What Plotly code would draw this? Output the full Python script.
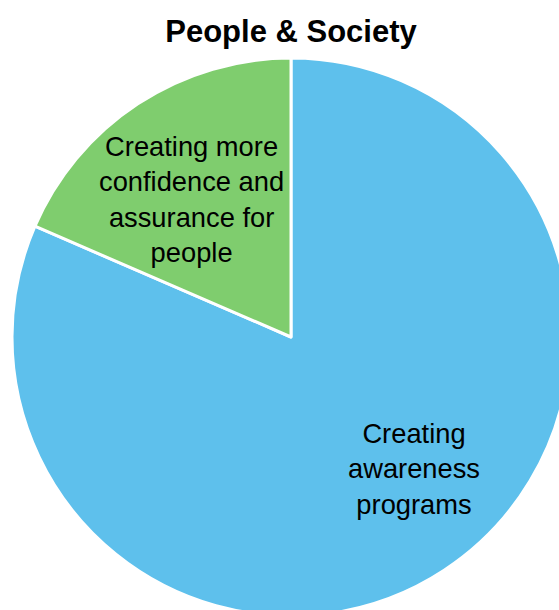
import plotly.graph_objects as go

# Data
labels = ["Creating awareness programs", "Creating more confidence and assurance for people"]
display_text = ["Creating<br>awareness<br>programs", "Creating more<br>confidence and<br>assurance for<br>people"]
values = [81.5, 18.5]
colors = ["#5EC0EC", "#7FCD6E"]
title_text = "People & Society"

W, H = 580, 625
L, T = 12, 58
D = 558  # pie diameter in px

fig = go.Figure(
    go.Pie(
        labels=labels,
        values=values,
        sort=False,
        direction="clockwise",
        rotation=0,
        marker=dict(colors=colors, line=dict(color="white", width=3)),
        textinfo="none",
        hoverinfo="label+percent",
        showlegend=False,
    )
)

# label annotations (positions as fractions of the pie's plotting area)
label_pos = [(0.720, 0.263), (0.321, 0.746)]
for txt, (x, y) in zip(display_text, label_pos):
    fig.add_annotation(
        text=txt, x=x, y=y, xref="paper", yref="paper",
        showarrow=False, xanchor="center", yanchor="middle",
        font=dict(family="Arial, Liberation Sans, sans-serif", size=27.3, color="black"),
    )

fig.update_layout(
    width=W, height=H,
    margin=dict(l=L, r=W - L - D, t=T, b=H - T - D, pad=0),
    paper_bgcolor="white", plot_bgcolor="white",
    title=dict(
        text="<b>" + title_text + "</b>",
        x=(291) / W, xanchor="center",
        y=1 - 31 / H, yanchor="middle", yref="container",
        font=dict(family="Arial, Liberation Sans, sans-serif", size=31, color="black"),
    ),
)

fig.write_html(
    "out.html",
    config={"displayModeBar": False},
    post_script="document.body.style.margin='0';document.body.style.overflow='hidden';",
)
